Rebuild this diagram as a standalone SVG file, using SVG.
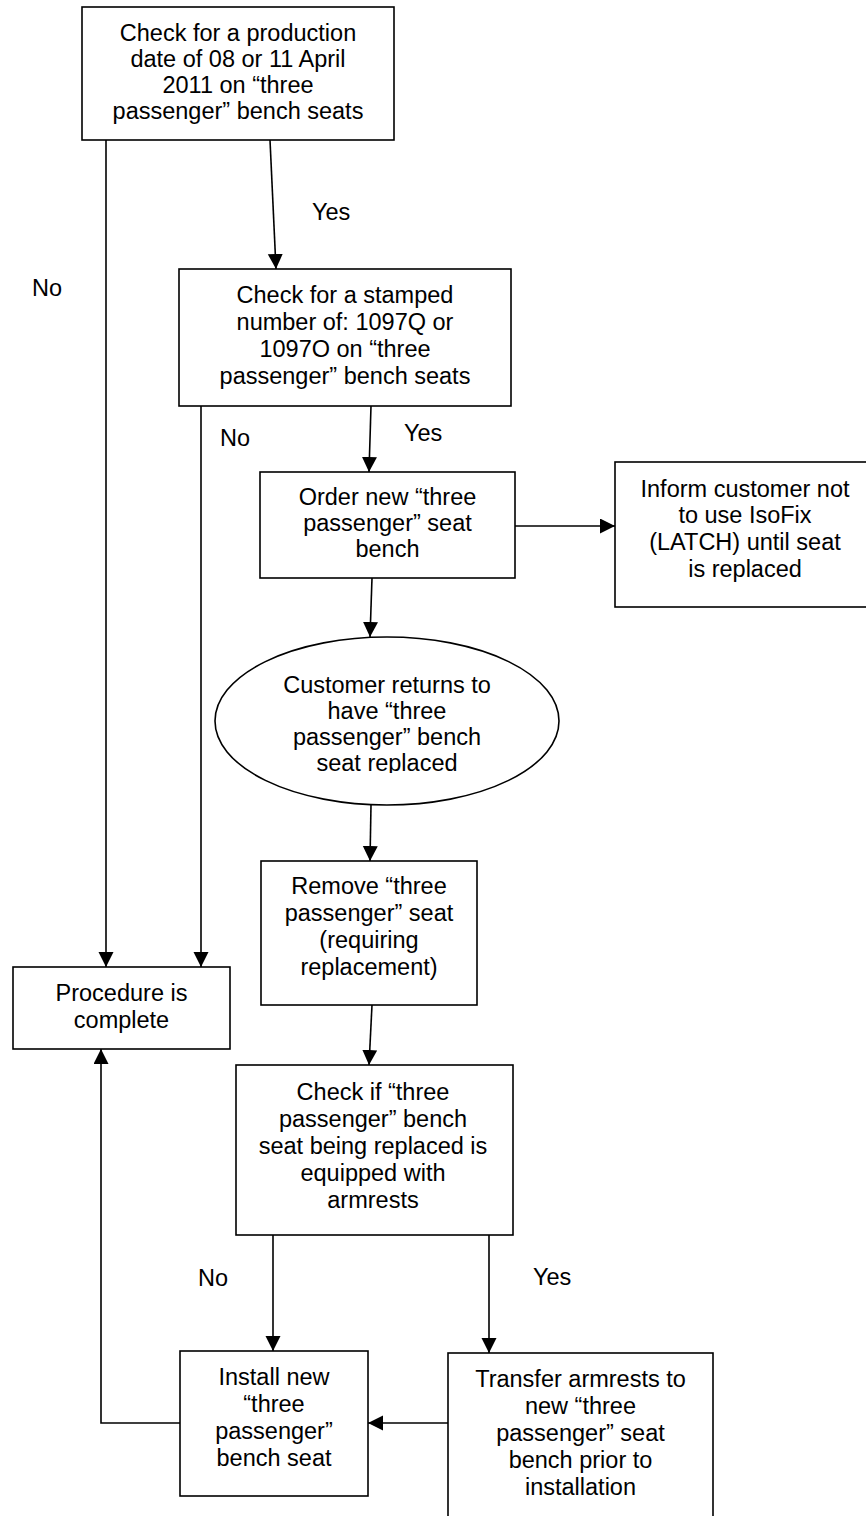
<svg xmlns="http://www.w3.org/2000/svg" width="866" height="1516" viewBox="0 0 866 1516">
<style>
.box{fill:#fff;stroke:#000;stroke-width:1.6}
.t{font-family:"Liberation Sans",Arial,sans-serif;font-size:23.5px;fill:#000;text-anchor:middle}
.l{font-family:"Liberation Sans",Arial,sans-serif;font-size:23.5px;fill:#000}
.c{fill:none;stroke:#000;stroke-width:1.6}
</style>
<defs>
<marker id="ah" markerUnits="userSpaceOnUse" markerWidth="16" markerHeight="16" refX="15" refY="7.5" orient="auto">
<path d="M0,0 L15,7.5 L0,15 z" fill="#000"/>
</marker>
<clipPath id="ellclip"><rect x="215" y="640" width="345" height="133"/></clipPath>
</defs>
<rect x="0" y="0" width="866" height="1516" fill="#fff"/>

<g id="connectors">
<line class="c" x1="270" y1="140" x2="276" y2="269" marker-end="url(#ah)"/>
<line class="c" x1="106" y1="140" x2="106" y2="967" marker-end="url(#ah)"/>
<line class="c" x1="201" y1="406" x2="201" y2="967" marker-end="url(#ah)"/>
<line class="c" x1="371" y1="406" x2="369" y2="472" marker-end="url(#ah)"/>
<line class="c" x1="515" y1="526" x2="615" y2="526" marker-end="url(#ah)"/>
<line class="c" x1="372" y1="578" x2="370" y2="637" marker-end="url(#ah)"/>
<line class="c" x1="371" y1="805" x2="370" y2="861" marker-end="url(#ah)"/>
<line class="c" x1="372" y1="1005" x2="369" y2="1065" marker-end="url(#ah)"/>
<line class="c" x1="273" y1="1235" x2="273" y2="1351" marker-end="url(#ah)"/>
<line class="c" x1="489" y1="1233" x2="489" y2="1353" marker-end="url(#ah)"/>
<line class="c" x1="448" y1="1423" x2="368" y2="1423" marker-end="url(#ah)"/>
<polyline class="c" points="180,1423 101,1423 101,1049" marker-end="url(#ah)"/>
<text class="l" x="312" y="220">Yes</text>
<text class="l" x="32" y="296">No</text>
<text class="l" x="220" y="446">No</text>
<text class="l" x="404" y="441">Yes</text>
<text class="l" x="198" y="1286">No</text>
<text class="l" x="533" y="1285">Yes</text>
</g>

<g id="n1">
<rect class="box" x="82" y="7" width="312" height="133"/>
<text class="t"><tspan x="238" y="41">Check for a production</tspan><tspan x="238" y="67">date of 08 or 11 April</tspan><tspan x="238" y="93">2011 on “three</tspan><tspan x="238" y="119">passenger” bench seats</tspan></text>
</g>

<g id="n2">
<rect class="box" x="179" y="269" width="332" height="137"/>
<text class="t"><tspan x="345" y="303">Check for a stamped</tspan><tspan x="345" y="330">number of: 1097Q or</tspan><tspan x="345" y="357">1097O on “three</tspan><tspan x="345" y="384">passenger” bench seats</tspan></text>
</g>

<g id="n3">
<rect class="box" x="260" y="472" width="255" height="106"/>
<text class="t"><tspan x="387.5" y="505">Order new “three</tspan><tspan x="387.5" y="531">passenger” seat</tspan><tspan x="387.5" y="557">bench</tspan></text>
</g>

<g id="n4">
<rect class="box" x="615" y="462" width="270" height="145"/>
<text class="t"><tspan x="745" y="497">Inform customer not</tspan><tspan x="745" y="523">to use IsoFix</tspan><tspan x="745" y="550">(LATCH) until seat</tspan><tspan x="745" y="577">is replaced</tspan></text>
</g>

<g id="n5">
<ellipse class="box" cx="387" cy="721" rx="172" ry="84"/>
<text class="t" clip-path="url(#ellclip)"><tspan x="387" y="693">Customer returns to</tspan><tspan x="387" y="719">have “three</tspan><tspan x="387" y="745">passenger” bench</tspan><tspan x="387" y="771">seat replaced</tspan></text>
</g>

<g id="n6">
<rect class="box" x="261" y="861" width="216" height="144"/>
<text class="t"><tspan x="369" y="894">Remove “three</tspan><tspan x="369" y="921">passenger” seat</tspan><tspan x="369" y="948">(requiring</tspan><tspan x="369" y="975">replacement)</tspan></text>
</g>

<g id="n7">
<rect class="box" x="13" y="967" width="217" height="82"/>
<text class="t"><tspan x="121.5" y="1001">Procedure is</tspan><tspan x="121.5" y="1028">complete</tspan></text>
</g>

<g id="n8">
<rect class="box" x="236" y="1065" width="277" height="170"/>
<text class="t"><tspan x="373" y="1100">Check if “three</tspan><tspan x="373" y="1127">passenger” bench</tspan><tspan x="373" y="1154">seat being replaced is</tspan><tspan x="373" y="1181">equipped with</tspan><tspan x="373" y="1208">armrests</tspan></text>
</g>

<g id="n9">
<rect class="box" x="180" y="1351" width="188" height="145"/>
<text class="t"><tspan x="274" y="1385">Install new</tspan><tspan x="274" y="1412">“three</tspan><tspan x="274" y="1439">passenger”</tspan><tspan x="274" y="1466">bench seat</tspan></text>
</g>

<g id="n10">
<rect class="box" x="448" y="1353" width="265" height="180"/>
<text class="t"><tspan x="580.5" y="1387">Transfer armrests to</tspan><tspan x="580.5" y="1414">new “three</tspan><tspan x="580.5" y="1441">passenger” seat</tspan><tspan x="580.5" y="1468">bench prior to</tspan><tspan x="580.5" y="1495">installation</tspan></text>
</g>
</svg>
